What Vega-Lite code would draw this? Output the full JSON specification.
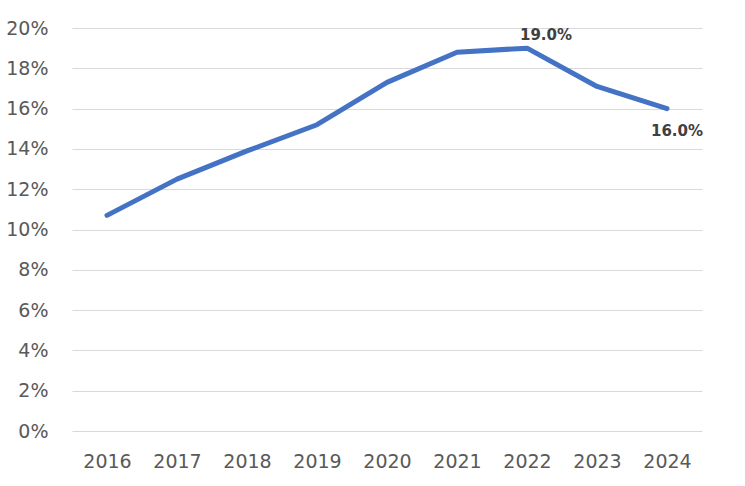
{
  "$schema": "https://vega.github.io/schema/vega-lite/v6.json",
  "width": 630,
  "height": 403,
  "autosize": {"type": "none"},
  "padding": {"left": 72, "top": 28, "right": 43, "bottom": 55},
  "background": "white",
  "config": {
    "view": {"stroke": null},
    "font": "DejaVu Sans"
  },
  "data": {
    "values": [
      {"year": "2016", "value": 0.107, "label": ""},
      {"year": "2017", "value": 0.125, "label": ""},
      {"year": "2018", "value": 0.139, "label": ""},
      {"year": "2019", "value": 0.152, "label": ""},
      {"year": "2020", "value": 0.173, "label": ""},
      {"year": "2021", "value": 0.188, "label": ""},
      {"year": "2022", "value": 0.190, "label": "19.0%"},
      {"year": "2023", "value": 0.171, "label": ""},
      {"year": "2024", "value": 0.160, "label": "16.0%"}
    ]
  },
  "encoding": {
    "x": {
      "field": "year",
      "type": "ordinal",
      "scale": {"type": "point", "padding": 0.5},
      "axis": {
        "title": null,
        "labelAngle": 0,
        "domain": false,
        "ticks": false,
        "labelFontSize": 19,
        "labelColor": "#595959",
        "labelPadding": 21,
        "labelFont": "DejaVu Sans"
      }
    },
    "y": {
      "field": "value",
      "type": "quantitative",
      "scale": {"domain": [0, 0.2]},
      "axis": {
        "title": null,
        "format": ".0%",
        "values": [0, 0.02, 0.04, 0.06, 0.08, 0.1, 0.12, 0.14, 0.16, 0.18, 0.2],
        "domain": false,
        "ticks": false,
        "grid": true,
        "gridColor": "#d9d9d9",
        "gridWidth": 1,
        "labelFontSize": 19,
        "labelColor": "#595959",
        "labelPadding": 24,
        "labelFont": "DejaVu Sans"
      }
    }
  },
  "layer": [
    {
      "mark": {"type": "line", "color": "#4472C4", "strokeWidth": 5, "strokeCap": "round", "strokeJoin": "round"}
    },
    {
      "transform": [{"filter": "datum.year == '2022'"}],
      "mark": {"type": "text", "fontSize": 15, "fontWeight": "bold", "color": "#404040", "dx": 19, "dy": -13, "font": "DejaVu Sans"},
      "encoding": {"text": {"field": "label"}}
    },
    {
      "transform": [{"filter": "datum.year == '2024'"}],
      "mark": {"type": "text", "fontSize": 15, "fontWeight": "bold", "color": "#404040", "dx": 10, "dy": 22, "font": "DejaVu Sans"},
      "encoding": {"text": {"field": "label"}}
    }
  ]
}
